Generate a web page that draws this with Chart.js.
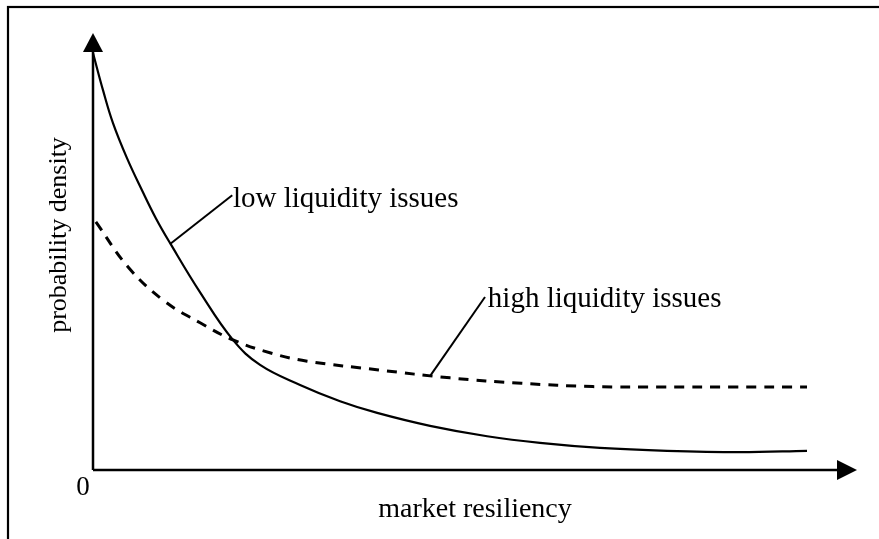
<!DOCTYPE html>
<html>
<head>
<meta charset="utf-8">
<script src="https://cdn.jsdelivr.net/npm/chart.js@4/dist/chart.umd.min.js"></script>
<style>
html,body{margin:0;padding:0;background:#fff;}
canvas{display:block;}
</style>
</head>
<body>
<canvas id="c" width="879" height="539"></canvas>
<script>
// Data (market resiliency on x, probability density on y; arbitrary units)
const lowX = [0, 1.4, 2.8, 4.76, 6.86, 8.8, 10.8, 15, 19.6, 23.4, 29, 34.6, 39.8, 47.2, 55.2, 62.6, 71, 80.4, 90.6, 100];
const lowY = [100, 91.1, 83.2, 74.8, 67.1, 60.4, 54.4, 42.6, 31.2, 25.2, 20.4, 16.5, 13.7, 10.6, 8.1, 6.5, 5.3, 4.6, 4.3, 4.6];
const highX = [0.4, 5, 10, 15, 19.6, 25, 30, 40, 50, 60, 70, 80, 90, 100];
const highY = [59.5, 48.5, 40.5, 35.3, 31.2, 28, 26.1, 24, 22.1, 20.8, 20, 19.9, 19.9, 19.9];
const seriesNames = ['low liquidity issues', 'high liquidity issues'];
const xAxisLabel = 'market resiliency';
const yAxisLabel = 'probability density';
const originLabel = '0';

const toPts = (xs, ys) => xs.map((x, i) => ({x: x, y: ys[i]}));

const SERIF = '"Liberation Serif", "Times New Roman", serif';

const decor = {
  id: 'decor',
  afterDatasetsDraw(chart) {
    const ctx = chart.ctx;
    const a = chart.chartArea;
    const xs = chart.scales.x, ys = chart.scales.y;
    const x0 = xs.getPixelForValue(0), y0 = ys.getPixelForValue(0);
    ctx.save();
    // outer frame (cropped box)
    ctx.strokeStyle = '#000';
    ctx.lineWidth = 2.2;
    ctx.strokeRect(8, 7, 1000, 1000);
    // axes
    ctx.lineWidth = 2.5;
    ctx.beginPath();
    ctx.moveTo(x0, y0); ctx.lineTo(x0, a.top + 15);
    ctx.moveTo(x0, y0); ctx.lineTo(a.right - 15, y0);
    ctx.stroke();
    ctx.fillStyle = '#000';
    ctx.beginPath();
    ctx.moveTo(x0, a.top); ctx.lineTo(x0 - 10, a.top + 19); ctx.lineTo(x0 + 10, a.top + 19); ctx.closePath();
    ctx.fill();
    ctx.beginPath();
    ctx.moveTo(a.right, y0); ctx.lineTo(a.right - 20, y0 - 10); ctx.lineTo(a.right - 20, y0 + 10); ctx.closePath();
    ctx.fill();
    // leaders and labels
    const ann = chart.options.plugins.decor.labels;
    ann.forEach(l => {
      ctx.lineWidth = 2;
      ctx.beginPath();
      ctx.moveTo(xs.getPixelForValue(l.from[0]), ys.getPixelForValue(l.from[1]));
      ctx.lineTo(xs.getPixelForValue(l.to[0]), ys.getPixelForValue(l.to[1]));
      ctx.stroke();
      ctx.font = '29px ' + SERIF;
      ctx.textAlign = 'left';
      ctx.textBaseline = 'alphabetic';
      ctx.fillText(l.text, xs.getPixelForValue(l.at[0]), ys.getPixelForValue(l.at[1]));
    });
    // axis labels
    ctx.font = '28px ' + SERIF;
    ctx.textAlign = 'center';
    ctx.fillText(xAxisLabel, 475, y0 + 47);
    ctx.font = '27px ' + SERIF;
    ctx.fillText(originLabel, x0 - 10, y0 + 25);
    ctx.save();
    ctx.translate(66, 235);
    ctx.rotate(-Math.PI / 2);
    ctx.font = '26px ' + SERIF;
    ctx.fillText(yAxisLabel, 0, 0);
    ctx.restore();
    ctx.restore();
  }
};

new Chart(document.getElementById('c'), {
  type: 'line',
  data: {
    datasets: [
      {
        label: seriesNames[0],
        data: toPts(lowX, lowY),
        borderColor: '#000',
        borderWidth: 2.2,
        pointRadius: 0,
        tension: 0.4,
        fill: false
      },
      {
        label: seriesNames[1],
        data: toPts(highX, highY),
        borderColor: '#000',
        borderWidth: 3,
        borderDash: [10, 8],
        pointRadius: 0,
        tension: 0.4,
        fill: false
      }
    ]
  },
  options: {
    responsive: false,
    animation: false,
    layout: {padding: {left: 93, right: 22, top: 33, bottom: 69}},
    scales: {
      x: {type: 'linear', min: 0, max: 107, display: false},
      y: {type: 'linear', min: 0, max: 104.8, display: false}
    },
    plugins: {
      legend: {display: false},
      tooltip: {enabled: false},
      decor: {
        labels: [
          {text: seriesNames[0], from: [10.8, 54.2], to: [19.5, 65.9], at: [19.6, 63.1]},
          {text: seriesNames[1], from: [47.2, 22.5], to: [54.9, 41.5], at: [55.3, 39.1]}
        ]
      }
    }
  },
  plugins: [decor]
});
</script>
</body>
</html>
